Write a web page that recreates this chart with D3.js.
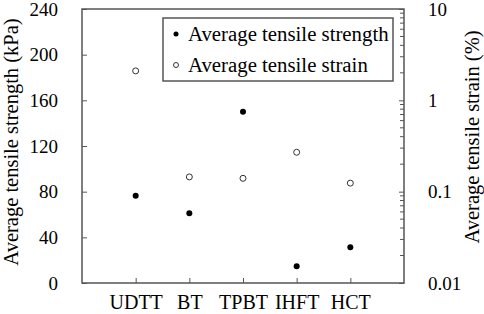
<!DOCTYPE html>
<meta charset="utf-8">
<script src="https://d3js.org/d3.v7.min.js"></script>
<style>
  body { margin: 0; background: #fff; }
  svg text { font-family: "Liberation Serif", "Times New Roman", serif !important; }
</style>
<div id="chart"></div>
<script>

// data
var tests = ["UDTT", "BT", "TPBT", "IHFT", "HCT"];
var strength = [76.5, 61, 150, 14.6, 31.3];      // kPa, left axis
var strain = [2.1, 0.145, 0.14, 0.27, 0.124];    // %, right axis (log)
var leftTicks = [0, 40, 80, 120, 160, 200, 240];
var rightTicks = [0.01, 0.1, 1, 10];

var W = 484, H = 314;
var margin = {top: 9, right: 80, bottom: 31, left: 82},
    width = W - margin.left - margin.right,
    height = H - margin.top - margin.bottom;

var svg = d3.select("#chart")
  .append("svg")
    .attr("width", W)
    .attr("height", H)
  .append("g")
    .attr("transform", "translate(" + margin.left + "," + margin.top + ")");

var x = d3.scalePoint()
  .domain(tests)
  .range([0, width])
  .padding(1);

var y = d3.scaleLinear()
  .domain([0, 240])
  .range([height, 0]);

var y2 = d3.scaleLog()
  .domain([0.01, 10])
  .range([height, 0]);

var axisColor = "#555";

// frame
svg.append("rect")
    .attr("width", width)
    .attr("height", height)
    .style("fill", "none")
    .style("stroke", axisColor)
    .style("stroke-width", 1.5);

function styleAxis(g) {
  g.attr("font-size", 19);
  g.select(".domain").remove();
  g.selectAll("line").style("stroke", axisColor);
  g.selectAll("text").style("fill", "#000");
}

// left axis, inward ticks
svg.append("g")
  .call(d3.axisLeft(y).tickValues(leftTicks).tickSize(-5).tickPadding(24))
  .call(styleAxis);

// bottom axis, inward ticks (labels a touch bigger)
svg.append("g")
  .attr("transform", "translate(0," + height + ")")
  .call(d3.axisBottom(x).tickSize(-5).tickPadding(12))
  .call(styleAxis)
  .attr("font-size", 20);

// right log axis: majors labelled, minors short
var minor = [];
rightTicks.slice(0, -1).forEach(function(d) {
  for (var k = 2; k <= 9; k++) minor.push(d * k);
});
svg.append("g")
  .attr("transform", "translate(" + width + ",0)")
  .call(d3.axisRight(y2).tickValues(rightTicks).tickFormat(d3.format("~g")).tickSize(-5).tickPadding(24))
  .call(styleAxis);

svg.append("g")
  .selectAll("line")
  .data(minor)
  .enter()
  .append("line")
    .attr("x1", width - 4)
    .attr("x2", width)
    .attr("y1", function(d) { return y2(d); })
    .attr("y2", function(d) { return y2(d); })
    .style("stroke", axisColor);

// axis titles
svg.append("text")
    .attr("transform", "rotate(-90)")
    .attr("x", -height / 2 + 4)
    .attr("y", -margin.left + 18)
    .attr("text-anchor", "middle")
    .style("font-size", "20.5px")
    .text("Average  tensile strength (kPa)");

svg.append("text")
    .attr("transform", "rotate(-90)")
    .attr("x", -height / 2 + 9)
    .attr("y", width + 75)
    .attr("text-anchor", "middle")
    .style("font-size", "20.5px")
    .text("Average  tensile strain (%)");

// points
svg.append("g")
  .selectAll("circle")
  .data(strength)
  .enter()
  .append("circle")
    .attr("cx", function(d, i) { return x(tests[i]); })
    .attr("cy", function(d) { return y(d); })
    .attr("r", 3)
    .style("fill", "#000");

svg.append("g")
  .selectAll("circle")
  .data(strain)
  .enter()
  .append("circle")
    .attr("cx", function(d, i) { return x(tests[i]); })
    .attr("cy", function(d) { return y2(d); })
    .attr("r", 3)
    .style("fill", "#fff")
    .style("stroke", "#333")
    .style("stroke-width", 1);

// legend
var lg = svg.append("g")
  .attr("transform", "translate(" + (163 - margin.left) + "," + (18 - margin.top) + ")");
lg.append("rect")
    .attr("width", 230)
    .attr("height", 63)
    .style("fill", "#fff")
    .style("stroke", axisColor)
    .style("stroke-width", 1.5);
var items = [
  {label: "Average tensile strength", filled: true},
  {label: "Average tensile strain", filled: false}
];
items.forEach(function(it, i) {
  var cy = 16 + i * 31;
  lg.append("circle")
      .attr("cx", 13)
      .attr("cy", cy)
      .attr("r", 2.5)
      .style("fill", it.filled ? "#000" : "#fff")
      .style("stroke", it.filled ? "none" : "#333");
  lg.append("text")
      .attr("x", 25)
      .attr("y", cy)
      .attr("dy", "0.35em")
      .style("font-size", "20.8px")
      .text(it.label);
});

</script>
